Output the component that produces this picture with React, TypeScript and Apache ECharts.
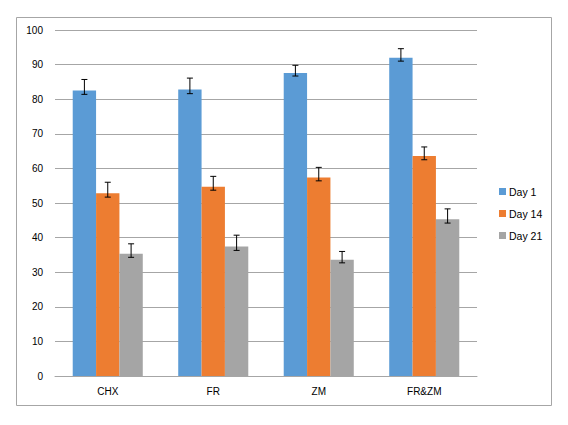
import React, { useEffect, useRef } from "react";
import * as echarts from "echarts";

const categories = ["CHX", "FR", "ZM", "FR&ZM"];
const seriesNames = ["Day 1", "Day 14", "Day 21"];
const day1 = [82.5, 82.8, 87.6, 92.0];
const day14 = [52.8, 54.7, 57.4, 63.6];
const day21 = [35.3, 37.4, 33.6, 45.3];
const day1Low = [81.4, 81.6, 86.7, 91.0];
const day1High = [85.7, 86.1, 89.8, 94.6];
const day14Low = [51.7, 53.7, 56.4, 62.5];
const day14High = [56.0, 57.7, 60.3, 66.2];
const day21Low = [34.3, 36.3, 32.7, 44.2];
const day21High = [38.2, 40.7, 36.0, 48.3];
const colors = ["#5B9BD5", "#ED7D31", "#A5A5A5"];

const CAT_GAP = 0.336;

export default function App() {
  const ref = useRef<HTMLDivElement>(null);
  useEffect(() => {
    document.body.style.margin = "0";
    if (!ref.current) return;
    const chart = echarts.init(ref.current, null, { renderer: "svg" });
    const values = [day1, day14, day21];
    const lows = [day1Low, day14Low, day21Low];
    const highs = [day1High, day14High, day21High];
    const font = "'Liberation Sans', Arial, sans-serif";

    const barSeries = values.map((v, i) => ({
      type: "bar",
      name: seriesNames[i],
      data: v,
      barGap: "0%",
      barCategoryGap: CAT_GAP * 100 + "%",
      itemStyle: { color: colors[i] },
      z: 2,
    }));

    const errSeries = values.map((v, i) => ({
      type: "custom",
      name: seriesNames[i] + " err",
      data: categories.map((_, c) => [c, lows[i][c], highs[i][c]]),
      encode: { x: 0, y: [1, 2] },
      z: 5,
      silent: true,
      renderItem: (params: any, api: any) => {
        const c = api.value(0);
        const lo = api.coord([c, api.value(1)]);
        const hi = api.coord([c, api.value(2)]);
        const catW = api.size([1, 0])[0];
        const barW = (catW * (1 - CAT_GAP)) / 3;
        const x = lo[0] + (i - 1) * barW;
        const cap = 3;
        const style = { stroke: "#000", lineWidth: 1 };
        return {
          type: "group",
          children: [
            { type: "line", shape: { x1: x, y1: hi[1], x2: x, y2: lo[1] }, style },
            { type: "line", shape: { x1: x - cap, y1: hi[1], x2: x + cap, y2: hi[1] }, style },
            { type: "line", shape: { x1: x - cap, y1: lo[1], x2: x + cap, y2: lo[1] }, style },
          ],
        };
      },
    }));

    chart.setOption({
      animation: false,
      backgroundColor: "#fff",
      textStyle: { fontFamily: font },
      graphic: [
        {
          type: "rect",
          shape: { x: 16.5, y: 17.5, width: 535, height: 388 },
          style: { fill: "none", stroke: "#a6a6a6", lineWidth: 1 },
          z: -1,
        },
      ],
      legend: {
        orient: "vertical",
        left: 494,
        top: 181,
        itemWidth: 7,
        itemHeight: 7,
        itemGap: 11,
        icon: "rect",
        data: seriesNames,
        textStyle: { fontSize: 10.5, color: "#000", fontFamily: font, padding: [0, 0, 0, -2] },
      },
      grid: { left: 55, right: 91, top: 30, bottom: 49 },
      xAxis: {
        type: "category",
        data: categories,
        axisLine: { lineStyle: { color: "#a6a6a6" } },
        axisTick: { show: false },
        axisLabel: { color: "#000", fontSize: 10, margin: 10, fontFamily: font },
      },
      yAxis: {
        type: "value",
        min: 0,
        max: 100,
        interval: 10,
        axisLine: { show: false },
        axisTick: { show: false },
        axisLabel: { color: "#000", fontSize: 10, margin: 12, fontFamily: font },
        splitLine: { lineStyle: { color: "#a6a6a6" } },
      },
      series: [...barSeries, ...errSeries],
    });
    return () => chart.dispose();
  }, []);
  return <div ref={ref} style={{ width: 568, height: 425 }} />;
}
